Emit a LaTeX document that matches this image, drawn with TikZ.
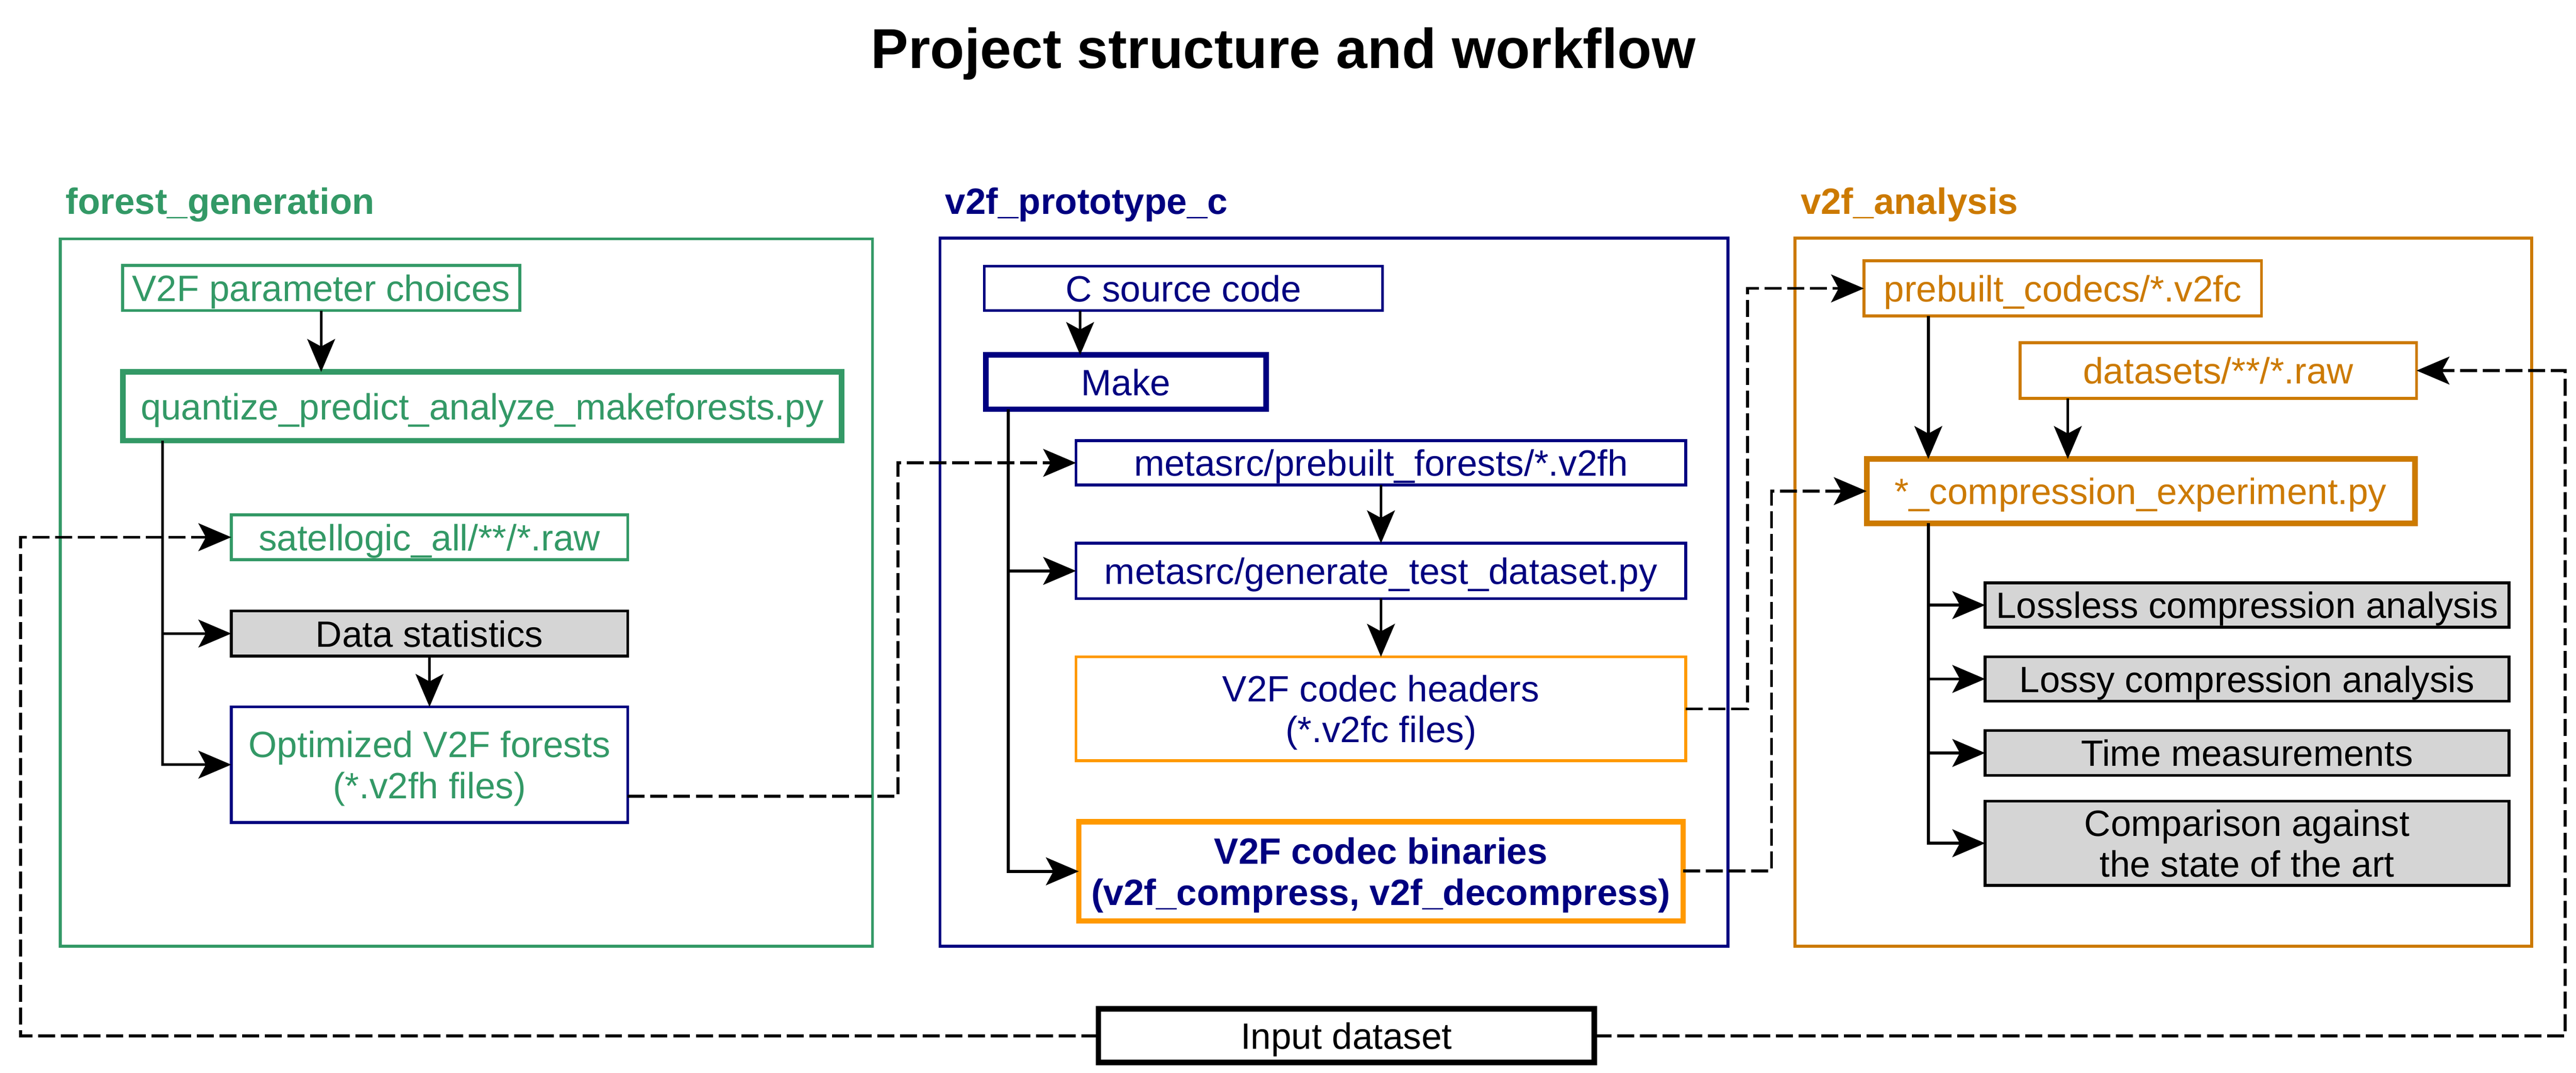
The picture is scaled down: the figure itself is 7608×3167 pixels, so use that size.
\documentclass[tikz,border=0pt]{standalone}
\usepackage{fontspec}
\setmainfont{Liberation Sans}
\usetikzlibrary{arrows.meta}
\definecolor{cgreen}{HTML}{339966}
\definecolor{cnavy}{HTML}{000080}
\definecolor{corange}{HTML}{FF9900}
\definecolor{cdorange}{HTML}{CC7A00}
\definecolor{cgray}{HTML}{D5D5D5}
\tikzset{
  box/.style={draw, rectangle, inner sep=0pt, outer sep=0pt, line width=0.85pt, align=center,
              text depth=0pt, font=\fontsize{10.8}{12.1}\selectfont},
  thickbox/.style={line width=1.65pt},
  gbox/.style={box, draw=cgreen, text=cgreen},
  nbox/.style={box, draw=cnavy, text=cnavy},
  obox/.style={box, draw=cdorange, text=cdorange},
  graybox/.style={box, draw=black, fill=cgray, text=black},
  frame/.style={draw, rectangle, inner sep=0pt, outer sep=0pt, line width=0.85pt},
  grouplabel/.style={anchor=base west, inner sep=0pt, font=\fontsize{10.8}{12}\selectfont\bfseries},
  conn/.style={line width=0.85pt, draw=black},
  arr/.style={conn, -{Stealth[length=9.7pt,width=8.2pt,inset=2.2pt]}},
  dashedconn/.style={conn, dash pattern=on 5pt off 1.7pt},
}
\begin{document}
\begin{tikzpicture}[x=0.1pt,y=-0.1pt]
\useasboundingbox (0,0) rectangle (7608,3167);

% title
\node[anchor=base, inner sep=0pt, font=\fontsize{16.6}{20}\selectfont\bfseries] (title) at (3790,202) {Project structure and workflow};

% group frames and labels
\node[frame, draw=cgreen, minimum width=239.9pt, minimum height=208.9pt] (fgframe) at (1377.5,1749.5) {};
\node[frame, draw=cnavy, minimum width=232.7pt, minimum height=209.1pt] (pcframe) at (3939.5,1748.5) {};
\node[frame, draw=cdorange, minimum width=217.6pt, minimum height=209.1pt] (anframe) at (6389,1748.5) {};
\node[grouplabel, text=cgreen] (fglabel) at (192,632) {forest\_generation};
\node[grouplabel, text=cnavy] (pclabel) at (2790,632) {v2f\_prototype\_c};
\node[grouplabel, text=cdorange] (anlabel) at (5316,632) {v2f\_analysis};

% forest_generation
\node[gbox, minimum width=117.3pt, minimum height=13.3pt] (param) at (948.5,850.5) {V2F parameter choices};
\node[gbox, thickbox, minimum width=212.2pt, minimum height=20.3pt] (quant) at (1424,1199.5) {quantize\_predict\_analyze\_makeforests.py};
\node[gbox, minimum width=117.1pt, minimum height=13.2pt] (sat) at (1268.5,1586) {satellogic\_all/**/*.raw};
\node[graybox, minimum width=117.1pt, minimum height=13.3pt] (stats) at (1268.5,1870.5) {Data statistics};
\node[box, draw=cnavy, text=cgreen, minimum width=117.1pt, minimum height=34.1pt] (opt) at (1268.5,2257.5) {Optimized V2F forests\\(*.v2fh files)};

% v2f_prototype_c
\node[nbox, minimum width=117.6pt, minimum height=13.1pt] (csrc) at (3495,851.5) {C source code};
\node[nbox, thickbox, minimum width=82.8pt, minimum height=16pt] (make) at (3325,1128) {Make};
\node[nbox, minimum width=180.1pt, minimum height=13.1pt] (pf) at (4078.5,1366.5) {metasrc/prebuilt\_forests/*.v2fh};
\node[nbox, minimum width=180.1pt, minimum height=16.3pt] (gen) at (4078.5,1685.5) {metasrc/generate\_test\_dataset.py};
\node[box, draw=corange, text=cnavy, minimum width=180.1pt, minimum height=30.7pt] (hdr) at (4078.5,2092.5) {V2F codec headers\\(*.v2fc files)};
\node[box, thickbox, draw=corange, text=cnavy, font=\fontsize{10.8}{12.1}\selectfont\bfseries, minimum width=178.5pt, minimum height=29.3pt] (bin) at (4078.5,2572.5) {V2F codec binaries\\(v2f\_compress, v2f\_decompress)};

% v2f_analysis
\node[obox, minimum width=117.4pt, minimum height=16.3pt] (pc) at (6092,851.5) {prebuilt\_codecs/*.v2fc};
\node[obox, minimum width=117.1pt, minimum height=16.4pt] (ds) at (6551.5,1094) {datasets/**/*.raw};
\node[obox, thickbox, minimum width=161.9pt, minimum height=19pt] (comp) at (6322.5,1450) {*\_compression\_experiment.py};
\node[graybox, minimum width=154.7pt, minimum height=13.1pt] (ll) at (6636.5,1786.5) {Lossless compression analysis};
\node[graybox, minimum width=154.7pt, minimum height=13.1pt] (ly) at (6636.5,2004.5) {Lossy compression analysis};
\node[graybox, minimum width=154.7pt, minimum height=13.2pt] (tm) at (6636.5,2223) {Time measurements};
\node[graybox, minimum width=154.7pt, minimum height=24.9pt] (cmp) at (6636.5,2489.5) {Comparison against\\the state of the art};

% input
\node[box, thickbox, draw=black, minimum width=146.5pt, minimum height=15.8pt] (inp) at (3976.5,3058) {Input dataset};

% helper coordinates
\coordinate (qx) at (480,1200);
\coordinate (mx) at (2978,1200);
\coordinate (cx) at (5695,1450);
\coordinate (csx) at (3190,900);
\coordinate (dsx) at (6107,1200);
\coordinate (lx) at (61,3058);
\coordinate (rx) at (7576,3058);
\coordinate (d1) at (2652,2351);
\coordinate (d2) at (5161,2093);
\coordinate (d3) at (5232,2571);

% solid connectors: forest_generation
\draw[arr] (param.south) -- (param.south |- quant.north);
\draw[arr] (qx |- quant.south) -- (qx |- opt.west) -- (opt.west);
\draw[arr] (qx |- stats.west) -- (stats.west);
\draw[arr] (stats.south) -- (opt.north);

% solid connectors: v2f_prototype_c
\draw[arr] (csx |- csrc.south) -- (csx |- make.north);
\draw[arr] (mx |- make.south) -- (mx |- bin.west) -- (bin.west);
\draw[arr] (mx |- gen.west) -- (gen.west);
\draw[arr] (pf.south) -- (gen.north);
\draw[arr] (gen.south) -- (hdr.north);

% solid connectors: v2f_analysis
\draw[arr] (cx |- pc.south) -- (cx |- comp.north);
\draw[arr] (dsx |- ds.south) -- (dsx |- comp.north);
\draw[arr] (cx |- comp.south) -- (cx |- cmp.west) -- (cmp.west);
\draw[arr] (cx |- ll.west) -- (ll.west);
\draw[arr] (cx |- ly.west) -- (ly.west);
\draw[arr] (cx |- tm.west) -- (tm.west);

% dashed connectors
\draw[dashedconn, arr] (inp.west) -- (lx) -- (lx |- sat.west) -- (sat.west);
\draw[dashedconn, arr] (inp.east) -- (rx) -- (rx |- ds.east) -- (ds.east);
\draw[dashedconn, arr] (opt.east |- d1) -- (d1) -- (d1 |- pf.west) -- (pf.west);
\draw[dashedconn, arr] (hdr.east |- d2) -- (d2) -- (d2 |- pc.west) -- (pc.west);
\draw[dashedconn, arr] (bin.east |- d3) -- (d3) -- (d3 |- comp.west) -- (comp.west);
\end{tikzpicture}
\end{document}
